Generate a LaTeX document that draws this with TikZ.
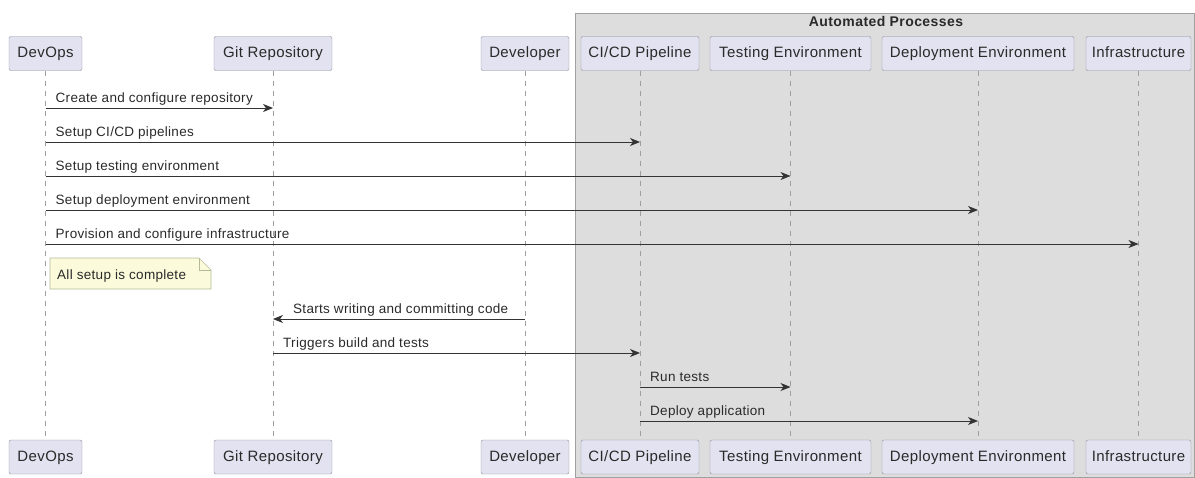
\documentclass[tikz,border=0pt]{standalone}
\usepackage{fontspec}
\setmainfont{Liberation Sans}
\newfontfamily\partfont[LetterSpace=2.6]{Liberation Sans}
\newfontfamily\msgfont[LetterSpace=2.2]{Liberation Sans}
\newfontfamily\titlefont[LetterSpace=3.0]{Liberation Sans}
\usetikzlibrary{arrows.meta}
\definecolor{partfill}{HTML}{E2E2F0}
\definecolor{partline}{HTML}{8E8E9E}
\definecolor{panefill}{HTML}{DDDDDD}
\definecolor{paneline}{HTML}{A0A0A0}
\definecolor{notefill}{HTML}{FBFBDC}
\definecolor{noteline}{HTML}{B4BA98}
\definecolor{txt}{HTML}{2A2A2A}
\begin{document}
\begin{tikzpicture}[x=1pt,y=-1pt,
  part/.style={draw=partline, fill=partfill, rounded corners=2pt, minimum height=34pt,
    inner sep=0pt, text height=11pt, text depth=3pt,
    font=\partfont\fontsize{15}{17}\selectfont, text=txt},
  life/.style={draw=gray!75, dash pattern=on 5pt off 5pt, line width=0.6pt},
  msg/.style={draw=black!80, line width=0.9pt, -{Stealth[length=10pt,width=8pt,inset=3pt]}},
  lbl/.style={font=\msgfont\fontsize{13.5}{15}\selectfont, anchor=base west, inner sep=0pt, text=txt},
]
\useasboundingbox (0,0) rectangle (1195,477);
% pane
\path[draw=paneline, fill=panefill, line width=0.8pt] (575,13) rectangle (1194,477);
\node[font=\titlefont\bfseries\fontsize{14}{16}\selectfont, text=txt] (title) at (886,21) {Automated Processes};
% participants top
\node[part, minimum width=73pt]  (devT)  at (45.5,53.5) {DevOps};
\node[part, minimum width=118pt] (gitT)  at (273,53.5)  {Git Repository};
\node[part, minimum width=88pt]  (dvlT)  at (525,53.5)  {Developer};
\node[part, minimum width=118pt] (ciT)   at (640,53.5)  {CI/CD Pipeline};
\node[part, minimum width=161pt] (tstT)  at (790.5,53.5){Testing Environment};
\node[part, minimum width=192pt] (depT)  at (978,53.5)  {Deployment Environment};
\node[part, minimum width=105pt] (infT)  at (1138.5,53.5){Infrastructure};
% participants bottom
\node[part, minimum width=73pt]  (devB)  at (45.5,457) {DevOps};
\node[part, minimum width=118pt] (gitB)  at (273,457)  {Git Repository};
\node[part, minimum width=88pt]  (dvlB)  at (525,457)  {Developer};
\node[part, minimum width=118pt] (ciB)   at (640,457)  {CI/CD Pipeline};
\node[part, minimum width=161pt] (tstB)  at (790.5,457){Testing Environment};
\node[part, minimum width=192pt] (depB)  at (978,457)  {Deployment Environment};
\node[part, minimum width=105pt] (infB)  at (1138.5,457){Infrastructure};
% lifelines
\foreach \p in {dev,git,dvl,ci,tst,dep,inf}{
  \draw[life] (\p T.south) -- (\p B.north);
}
% rows
\foreach \i/\y in {1/108,2/142,3/176,4/210,5/244,6/319,7/353,8/387,9/421}{
  \coordinate (r\i) at (0,\y);
}
% messages
\draw[msg] (devT |- r1) -- (gitT |- r1);
\node[lbl] (l1) at ([shift={(10,-6)}]devT |- r1) {Create and configure repository};
\draw[msg] (devT |- r2) -- (ciT |- r2);
\node[lbl] (l2) at ([shift={(10,-6)}]devT |- r2) {Setup CI/CD pipelines};
\draw[msg] (devT |- r3) -- (tstT |- r3);
\node[lbl] (l3) at ([shift={(10,-6)}]devT |- r3) {Setup testing environment};
\draw[msg] (devT |- r4) -- (depT |- r4);
\node[lbl] (l4) at ([shift={(10,-6)}]devT |- r4) {Setup deployment environment};
\draw[msg] (devT |- r5) -- (infT |- r5);
\node[lbl] (l5) at ([shift={(10,-6)}]devT |- r5) {Provision and configure infrastructure};
% note
\path[draw=noteline, fill=notefill, line width=0.7pt]
  (50,258) -- (199,258) -- (211,270) -- (211,289) -- (50,289) -- cycle;
\draw[noteline, line width=0.7pt] (199,258) -- (199,270) -- (211,270);
\node[lbl] (note) at (57,279) {All setup is complete};
% developer flow
\draw[msg] (dvlT |- r6) -- (gitT |- r6);
\node[lbl] (l6) at ([shift={(20,-6)}]gitT |- r6) {Starts writing and committing code};
\draw[msg] (gitT |- r7) -- (ciT |- r7);
\node[lbl] (l7) at ([shift={(10,-6)}]gitT |- r7) {Triggers build and tests};
\draw[msg] (ciT |- r8) -- (tstT |- r8);
\node[lbl] (l8) at ([shift={(10,-6)}]ciT |- r8) {Run tests};
\draw[msg] (ciT |- r9) -- (depT |- r9);
\node[lbl] (l9) at ([shift={(10,-6)}]ciT |- r9) {Deploy application};
\end{tikzpicture}
\end{document}
